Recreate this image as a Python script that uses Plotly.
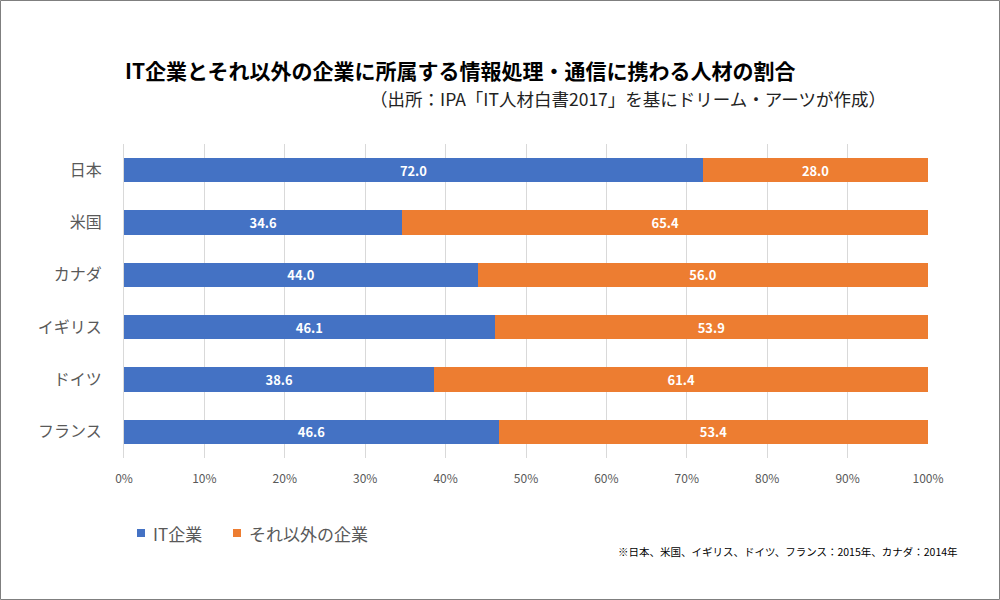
import plotly.graph_objects as go

countries = ["日本", "米国", "カナダ", "イギリス", "ドイツ", "フランス"]
it_share = [72.0, 34.6, 44.0, 46.1, 38.6, 46.6]
other_share = [28.0, 65.4, 56.0, 53.9, 61.4, 53.4]
series_names = ["IT企業", "それ以外の企業"]
series_colors = ["#4472C4", "#ED7D31"]
tick_vals = [0, 10, 20, 30, 40, 50, 60, 70, 80, 90, 100]
tick_text = [f"{v}%" for v in tick_vals]

FONT = "Noto Sans CJK JP"
L, R, T, B = 124, 72, 144, 142
W, H = 1000, 600
pw, ph = W - L - R, H - T - B

def px(x):
    return (x - L) / pw

def py(y):
    return (H - B - y) / ph

fig = go.Figure()
for name, vals, col in zip(series_names, [it_share, other_share], series_colors):
    fig.add_trace(go.Bar(
        y=countries, x=vals, orientation="h", name=name,
        marker=dict(color=col, line=dict(width=0)),
        text=[f"{v:.1f}" for v in vals], textposition="inside",
        insidetextanchor="middle", texttemplate="<b>%{text}</b>",
        textfont=dict(color="white", size=15, family=FONT),
        width=0.46, showlegend=False,
    ))

fig.update_layout(
    width=W, height=H, barmode="stack",
    margin=dict(l=L, r=R, t=T, b=B),
    paper_bgcolor="white", plot_bgcolor="white",
    font=dict(family=FONT, color="#595959"),
    xaxis=dict(range=[0, 100], tickvals=tick_vals, ticktext=tick_text,
               showgrid=True, gridcolor="#D9D9D9", gridwidth=1,
               zeroline=False, showline=False,
               tickfont=dict(size=12, color="#595959"), ticks="", ticklen=0,
               ticklabelstandoff=12),
    yaxis=dict(autorange="reversed", showgrid=False, zeroline=False,
               showline=True, linecolor="#D9D9D9", linewidth=1,
               tickfont=dict(size=16, color="#595959"), ticks="",
               ticklabelstandoff=18),
    uniformtext=dict(minsize=8, mode="show"),
)

# legend (manual, to match the compact reference layout)
leg_x = [137, 233]
leg_y = 533
for lx, name, col in zip(leg_x, series_names, series_colors):
    fig.add_shape(type="rect", xref="paper", yref="paper",
                  x0=px(lx), x1=px(lx + 8), y0=py(leg_y - 4), y1=py(leg_y + 4),
                  fillcolor=col, line=dict(width=0))
    fig.add_annotation(xref="paper", yref="paper", x=px(lx + 14), y=py(leg_y),
                       xanchor="left", yanchor="middle", showarrow=False,
                       text=name, font=dict(size=17, color="#595959", family=FONT))

fig.add_annotation(xref="paper", yref="paper", x=px(123), y=py(70),
                   xanchor="left", yanchor="middle", showarrow=False,
                   text="<b>IT企業とそれ以外の企業に所属する情報処理・通信に携わる人材の割合</b>",
                   font=dict(size=21, color="#000000", family=FONT))
fig.add_annotation(xref="paper", yref="paper", x=px(888), y=py(99),
                   xanchor="right", yanchor="middle", showarrow=False,
                   text="（出所：IPA「IT人材白書2017」を基にドリーム・アーツが作成）",
                   font=dict(size=17.5, color="#222222", family=FONT))
fig.add_annotation(xref="paper", yref="paper", x=px(960), y=py(551),
                   xanchor="right", yanchor="middle", showarrow=False,
                   text="※日本、米国、イギリス、ドイツ、フランス：2015年、カナダ：2014年",
                   font=dict(size=10.5, color="#000000", family=FONT))

fig.add_shape(type="rect", xref="paper", yref="paper",
              x0=px(0.5), x1=px(999.5), y0=py(0.5), y1=py(599.5),
              line=dict(color="#7F7F7F", width=1), fillcolor="rgba(0,0,0,0)",
              layer="above")

fig.write_html("out.html")
